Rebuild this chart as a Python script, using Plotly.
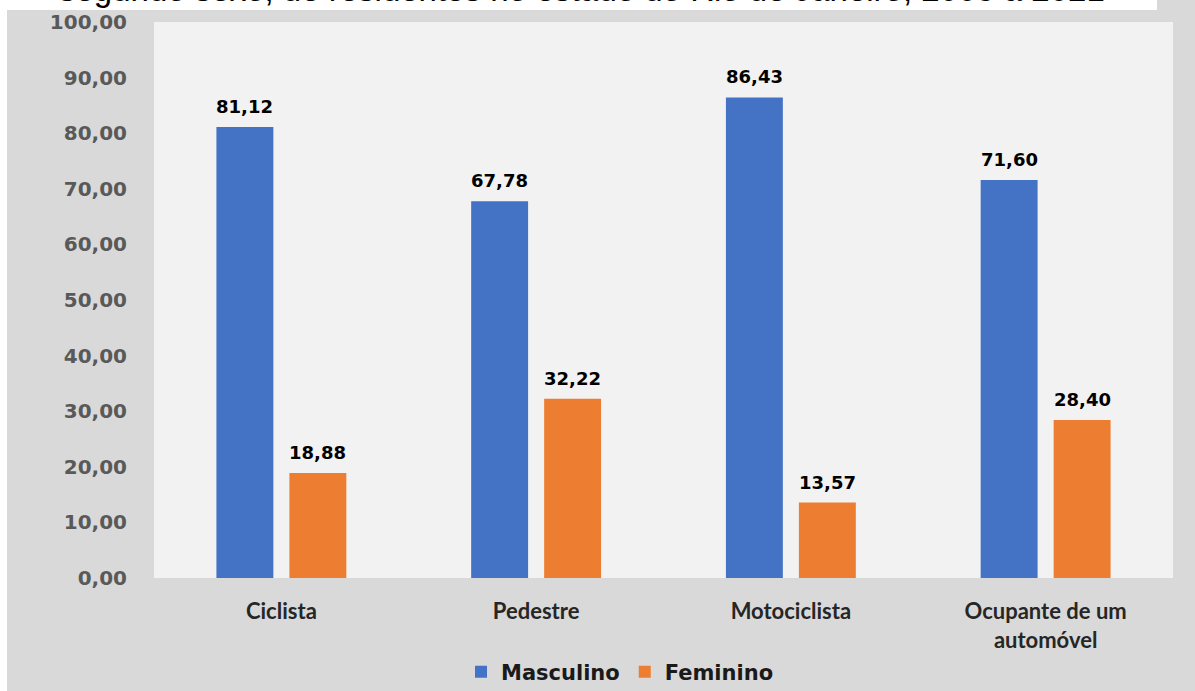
import plotly.graph_objects as go

categorias = ["Ciclista", "Pedestre", "Motociclista", "Ocupante de um<br>automóvel"]
masculino = [81.12, 67.78, 86.43, 71.60]
feminino = [18.88, 32.22, 13.57, 28.40]
series_nomes = ["Masculino", "Feminino"]
y_ticks = [0, 10, 20, 30, 40, 50, 60, 70, 80, 90, 100]
titulo = "segundo sexo, de residentes no estado do Rio de Janeiro, 2005 a 2021"

W, H = 1195, 691
L, R, T, B = 154, 22, 22, 113
PW, PH = W - L - R, H - T - B


def px_x(p):
    return (p - L) / PW


def px_y(p):
    return (H - B - p) / PH


def fmt(v):
    return f"{v:.2f}".replace(".", ",")


AZUL = "#4472C4"
LARANJA = "#ED7D31"

fig = go.Figure()
fig.add_trace(go.Bar(x=categorias, y=masculino, name=series_nomes[0],
                     marker=dict(color=AZUL, line=dict(width=0))))
fig.add_trace(go.Bar(x=categorias, y=feminino, name=series_nomes[1],
                     marker=dict(color=LARANJA, line=dict(width=0))))

annotations = []
for serie, shift in ((masculino, -36.5), (feminino, 36.5)):
    for c, v in zip(categorias, serie):
        annotations.append(dict(
            x=c, y=v, xref="x", yref="y", text=fmt(v), showarrow=False,
            xanchor="center", yanchor="bottom", xshift=shift, yshift=8,
            font=dict(family="DejaVu Sans", size=18, color="#000000", weight="bold"),
        ))

annotations.append(dict(
    x=px_x(57), y=px_y(10), xref="paper", yref="paper", text=titulo,
    showarrow=False, xanchor="left", yanchor="bottom",
    font=dict(family="Liberation Sans, Arial", size=33, color="#000000"),
))

shapes = [
    dict(type="rect", xref="paper", yref="paper", x0=px_x(-5), x1=px_x(1157),
         y0=px_y(10), y1=px_y(-20), fillcolor="#ffffff", line=dict(width=0), layer="above"),
    dict(type="rect", xref="paper", yref="paper", x0=px_x(-5), x1=px_x(7),
         y0=px_y(700), y1=px_y(-20), fillcolor="#ffffff", line=dict(width=0), layer="above"),
]

fig.update_layout(
    width=W, height=H, autosize=False,
    margin=dict(l=L, r=R, t=T, b=B, pad=0, autoexpand=False),
    paper_bgcolor="#D9D9D9", plot_bgcolor="#F2F2F2",
    barmode="group", bargap=0.427, bargroupgap=0.22,
    separators=",.",
    showlegend=True,
    legend=dict(orientation="h", x=px_x(461), y=px_y(672), xanchor="left", yanchor="middle",
                font=dict(family="DejaVu Sans", size=21, color="#1a1a1a", weight="bold"),
                bgcolor="rgba(0,0,0,0)", traceorder="normal"),
    annotations=annotations,
    shapes=shapes,
    xaxis=dict(showgrid=False, zeroline=False, showline=False, automargin=False,
               ticks="outside", ticklen=14, tickcolor="rgba(0,0,0,0)",
               tickfont=dict(family="Lato", size=22, color="#262626", weight="bold")),
    yaxis=dict(range=[0, 100], tickvals=y_ticks, tickformat=".2f", automargin=False,
               showgrid=False, zeroline=False, showline=False,
               ticks="outside", ticklen=22, tickcolor="rgba(0,0,0,0)",
               tickfont=dict(family="DejaVu Sans", size=20, color="#595959", weight="bold")),
)

fig.write_html("out.html")
